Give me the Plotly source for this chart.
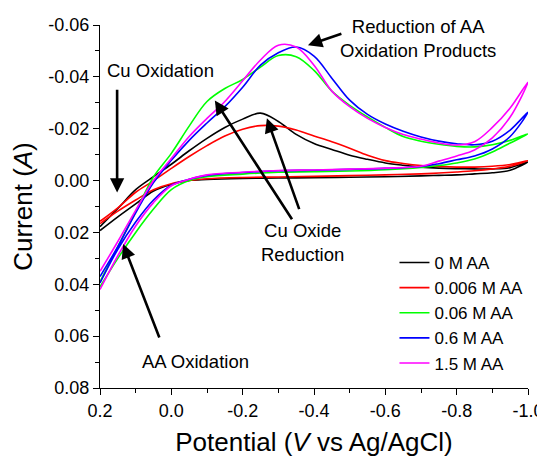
import plotly.graph_objects as go

# Potential grid (V vs Ag/AgCl) for the cathodic sweep 0.2 -> -1.0
V_cath = [0.2, 0.15, 0.1, 0.05, 0.0, -0.05, -0.1, -0.15, -0.2, -0.25, -0.3, -0.35,
          -0.4, -0.45, -0.5, -0.55, -0.6, -0.65, -0.7, -0.75, -0.8, -0.85, -0.9, -0.95, -1.0]
# Anodic return sweep -1.0 -> 0.2
V_anod = [-1.0, -0.95, -0.9, -0.85, -0.8, -0.75, -0.7, -0.6, -0.5, -0.4, -0.3, -0.2,
          -0.1, -0.05, 0.0, 0.05, 0.1, 0.15, 0.2]

series_names = ["0 M AA", "0.006 M AA", "0.06 M AA", "0.6 M AA", "1.5 M AA"]
series_colors = ["#000000", "#FF0000", "#00FF00", "#0000FF", "#FF00FF"]

# Currents (A) on cathodic sweep
I_cath_0 = [0.0178, 0.0108, 0.0035, -0.0015, -0.0063, -0.0115, -0.0163, -0.0205, -0.0237, -0.0260,
            -0.0228, -0.0178, -0.0143, -0.0120, -0.0098, -0.0082, -0.0068, -0.0059, -0.0052, -0.0048,
            -0.0046, -0.0045, -0.0045, -0.0050, -0.0072]
I_cath_0006 = [0.0157, 0.0105, 0.0045, 0.0001, -0.0047, -0.0093, -0.0135, -0.0172, -0.0198, -0.0212,
               -0.0210, -0.0195, -0.0172, -0.0150, -0.0125, -0.0098, -0.0077, -0.0066, -0.0058, -0.0054,
               -0.0052, -0.0052, -0.0055, -0.0062, -0.0077]
I_cath_006 = [0.0390, 0.0255, 0.0120, -0.0014, -0.0105, -0.0210, -0.0305, -0.0355, -0.0390, -0.0438,
              -0.0482, -0.0478, -0.0425, -0.0345, -0.0290, -0.0245, -0.0205, -0.0170, -0.0152, -0.0140,
              -0.0132, -0.0130, -0.0138, -0.0155, -0.0180]
I_cath_06 = [0.0370, 0.0255, 0.0125, 0.0008, -0.0078, -0.0155, -0.0222, -0.0285, -0.0360, -0.0445,
             -0.0493, -0.0515, -0.0480, -0.0395, -0.0310, -0.0255, -0.0218, -0.0190, -0.0168, -0.0152,
             -0.0142, -0.0138, -0.0152, -0.0195, -0.0264]
I_cath_15 = [0.0350, 0.0235, 0.0115, 0.0000, -0.0085, -0.0170, -0.0240, -0.0305, -0.0385, -0.0465,
             -0.0522, -0.0515, -0.0445, -0.0345, -0.0285, -0.0240, -0.0205, -0.0178, -0.0160, -0.0145,
             -0.0137, -0.0150, -0.0205, -0.0280, -0.0380]

# Currents (A) on anodic return sweep
I_anod_0 = [-0.0072, -0.0040, -0.0030, -0.0026, -0.0022, -0.0020, -0.0018, -0.0015, -0.0013, -0.0011,
            -0.0010, -0.0008, -0.0004, 0.0000, 0.0015, 0.0040, 0.0090, 0.0140, 0.0193]
I_anod_0006 = [-0.0077, -0.0055, -0.0045, -0.0038, -0.0033, -0.0029, -0.0026, -0.0022, -0.0019, -0.0016,
               -0.0014, -0.0012, -0.0007, 0.0000, 0.0012, 0.0035, 0.0075, 0.0118, 0.0166]
I_anod_006 = [-0.0180, -0.0145, -0.0110, -0.0083, -0.0068, -0.0058, -0.0051, -0.0042, -0.0037, -0.0034,
              -0.0032, -0.0025, -0.0015, 0.0000, 0.0035, 0.0110, 0.0200, 0.0300, 0.0410]
I_anod_06 = [-0.0264, -0.0170, -0.0122, -0.0095, -0.0080, -0.0065, -0.0054, -0.0047, -0.0043, -0.0040,
             -0.0038, -0.0031, -0.0020, -0.0005, 0.0018, 0.0075, 0.0160, 0.0265, 0.0395]
I_anod_15 = [-0.0380, -0.0245, -0.0165, -0.0118, -0.0095, -0.0075, -0.0055, -0.0048, -0.0044, -0.0041,
             -0.0039, -0.0032, -0.0022, -0.0005, 0.0020, 0.0085, 0.0175, 0.0290, 0.0420]

I_cath = [I_cath_0, I_cath_0006, I_cath_006, I_cath_06, I_cath_15]
I_anod = [I_anod_0, I_anod_0006, I_anod_006, I_anod_06, I_anod_15]

x_tickvals = [0.2, 0.0, -0.2, -0.4, -0.6, -0.8, -1.0]
x_ticktext = ["0.2", "0.0", "-0.2", "-0.4", "-0.6", "-0.8", "-1.0"]
x_minor = [0.1, -0.1, -0.3, -0.5, -0.7, -0.9]
y_tickvals = [-0.06, -0.04, -0.02, 0.0, 0.02, 0.04, 0.06, 0.08]
y_ticktext = ["-0.06", "-0.04", "-0.02", "0.00", "0.02", "0.04", "0.06", "0.08"]
y_minor = [-0.05, -0.03, -0.01, 0.01, 0.03, 0.05, 0.07]

FONT = "Arial, Liberation Sans, sans-serif"
ANN_SIZE = 18.5

fig = go.Figure()
for name, color, ic, ia in zip(series_names, series_colors, I_cath, I_anod):
    fig.add_trace(go.Scatter(
        x=V_cath + V_anod[1:], y=ic + ia[1:], mode="lines", name=name,
        line=dict(color=color, width=1.6, shape="spline", smoothing=1.0),
    ))

arrow_kw = dict(showarrow=True, arrowhead=2, arrowsize=1.1, arrowwidth=2.6, arrowcolor="black",
                axref="x", ayref="y", text="")
annotations = [
    dict(x=0.152, y=0.0046, ax=0.152, ay=-0.0356, **arrow_kw),
    dict(x=-0.383, y=-0.0522, ax=-0.481, ay=-0.0568, **arrow_kw),
    dict(x=-0.122, y=-0.0309, ax=-0.341, ay=0.0155, **arrow_kw),
    dict(x=-0.268, y=-0.0240, ax=-0.360, ay=0.0116, **arrow_kw),
    dict(x=0.135, y=0.0245, ax=0.032, ay=0.0611, **arrow_kw),
    dict(x=0.186, y=-0.0425, text="Cu Oxidation", showarrow=False, xanchor="left",
         font=dict(size=ANN_SIZE, family=FONT, color="black")),
    dict(x=-0.691, y=-0.0549, text="Reduction of AA<br>Oxidation Products", showarrow=False,
         font=dict(size=ANN_SIZE, family=FONT, color="black")),
    dict(x=-0.369, y=0.0240, text="Cu Oxide<br>Reduction", showarrow=False,
         font=dict(size=ANN_SIZE, family=FONT, color="black")),
    dict(x=-0.069, y=0.0696, text="AA Oxidation", showarrow=False,
         font=dict(size=ANN_SIZE, family=FONT, color="black")),
]

# The page body has an 8px margin, so the figure is 8px smaller and margins offset accordingly
fig.update_layout(
    width=537, height=452,
    margin=dict(l=92, r=17, t=17, b=72),
    paper_bgcolor="white", plot_bgcolor="white",
    font=dict(family=FONT, size=16, color="black"),
    showlegend=True,
    legend=dict(x=0.688, y=0.394, xanchor="left", yanchor="top", bgcolor="rgba(0,0,0,0)",
                font=dict(size=17, family=FONT), tracegroupgap=0),
    annotations=annotations,
    xaxis=dict(
        range=[0.2, -1.0], showline=True, linecolor="black", linewidth=1.2,
        ticks="outside", ticklen=6, tickwidth=1.2, tickcolor="black",
        tickmode="array", tickvals=x_tickvals, ticktext=x_ticktext,
        minor=dict(ticks="outside", ticklen=4, tickwidth=1.2, tickcolor="black", tickvals=x_minor),
        showgrid=False, zeroline=False, automargin=False,
        tickfont=dict(size=18, family=FONT),
        title=dict(text="Potential (<i>V</i> vs Ag/AgCl)", font=dict(size=26, family=FONT), standoff=13),
    ),
    yaxis=dict(
        range=[0.08, -0.06], showline=True, linecolor="black", linewidth=1.2,
        ticks="outside", ticklen=6, tickwidth=1.2, tickcolor="black",
        tickmode="array", tickvals=y_tickvals, ticktext=y_ticktext,
        minor=dict(ticks="outside", ticklen=4, tickwidth=1.2, tickcolor="black", tickvals=y_minor),
        showgrid=False, zeroline=False, automargin=False,
        tickfont=dict(size=18, family=FONT),
        title=dict(text="Current (<i>A</i>)", font=dict(size=26, family=FONT), standoff=10),
    ),
)

fig.write_html("out.html")
